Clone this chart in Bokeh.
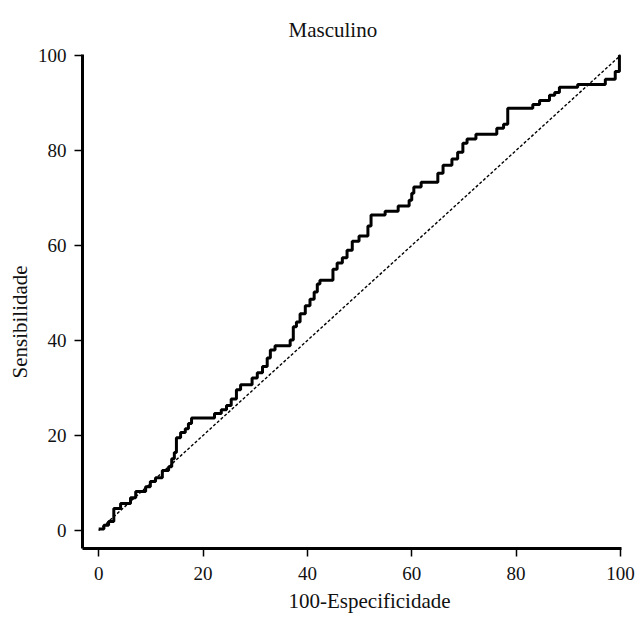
from bokeh.plotting import figure
from bokeh.models import Range1d, Title, FixedTicker
from bokeh.embed import file_html
from bokeh.resources import INLINE

# ROC points (start of each horizontal segment): 100-Especificidade, Sensibilidade
fpr = [0.0, 1.0, 1.9, 2.9, 4.2, 6.1, 7.1, 9.0, 9.9, 10.9, 12.2, 13.4, 14.0, 14.5,
       14.9, 15.7, 16.6, 17.2, 17.8, 22.2, 23.5, 24.5, 25.4, 26.4, 27.2, 29.4,
       30.4, 31.4, 32.3, 32.9, 33.8, 36.7, 37.3, 37.9, 38.6, 39.6, 40.5, 41.3,
       41.9, 42.4, 44.9, 45.7, 46.7, 47.6, 48.6, 49.9, 51.6, 52.2, 54.9, 57.4,
       59.5, 60.0, 60.4, 61.8, 65.0, 66.0, 67.7, 68.8, 69.8, 70.6, 72.3, 76.3,
       77.6, 78.4, 83.2, 84.5, 86.4, 87.4, 88.3, 91.8, 97.1, 99.0, 99.8, 100.0]
tpr = [0.3, 1.1, 1.9, 4.6, 5.7, 6.9, 8.2, 9.2, 10.3, 11.1, 12.6, 13.4, 15.1, 16.4,
       19.5, 20.6, 21.4, 22.5, 23.7, 24.6, 25.4, 26.3, 27.7, 29.6, 30.7, 32.1,
       33.2, 34.5, 36.3, 38.0, 38.9, 40.1, 42.9, 43.9, 45.6, 47.3, 48.7, 50.2,
       51.9, 52.7, 55.0, 56.3, 57.4, 59.0, 60.9, 62.0, 64.1, 66.4, 67.2, 68.3,
       69.5, 71.0, 72.3, 73.3, 75.2, 76.9, 78.2, 79.6, 81.5, 82.4, 83.4, 84.7,
       85.5, 88.9, 89.7, 90.5, 91.6, 92.2, 93.3, 93.9, 95.0, 96.6, 100.0, 100.0]

diag_x = [0, 100]
diag_y = [0, 100]
tick_values = [0, 20, 40, 60, 80, 100]

title_text = "Masculino"
x_label = "100-Especificidade"
y_label = "Sensibilidade"

FONT = "Liberation Serif"

p = figure(width=637, height=618, output_backend="svg", toolbar_location=None,
           x_range=Range1d(-3.1, 100.2), y_range=Range1d(-3.8, 100.2),
           min_border_left=82, min_border_right=16, min_border_top=54,
           min_border_bottom=70)

p.title = Title(text=title_text, align="left", offset=206, standoff=26,
                text_font=FONT, text_font_size="21px", text_font_style="normal",
                text_color="#111111")
p.add_layout(Title(text=x_label, align="left", offset=206, standoff=8,
                   text_font=FONT, text_font_size="21px",
                   text_font_style="normal", text_color="#111111"), "below")
p.add_layout(Title(text=y_label, align="left", offset=170, standoff=5,
                   text_font=FONT, text_font_size="21px",
                   text_font_style="normal", text_color="#111111"), "left")

p.line(diag_x, diag_y, line_color="black", line_width=1.4, line_dash="3 2")
p.step(fpr, tpr, mode="after", line_color="black", line_width=3)

p.outline_line_color = None
p.xgrid.grid_line_color = None
p.ygrid.grid_line_color = None
p.background_fill_color = "white"
p.border_fill_color = "white"

for ax in (p.xaxis[0], p.yaxis[0]):
    ax.ticker = FixedTicker(ticks=tick_values)
    ax.minor_tick_line_color = None
    ax.major_tick_in = 0
    ax.major_tick_out = 8
    ax.major_tick_line_width = 1.5
    ax.major_tick_line_color = "black"
    ax.axis_line_width = 3
    ax.axis_line_color = "black"
    ax.major_label_text_font = FONT
    ax.major_label_text_font_size = "19px"
    ax.major_label_text_color = "#111111"
    ax.major_label_standoff = 8
p.xaxis[0].major_label_standoff = 10

open("out.html", "w").write(file_html(p, INLINE))
